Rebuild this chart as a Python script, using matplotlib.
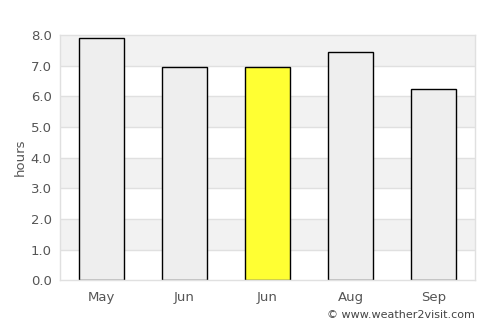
import matplotlib
matplotlib.use("Agg")
import matplotlib.pyplot as plt

# --- Data ---
months = ["May", "Jun", "Jun", "Aug", "Sep"]
hours = [7.9, 6.95, 6.95, 7.45, 6.25]
highlight = 2  # index of the current month
y_ticks = [0, 1, 2, 3, 4, 5, 6, 7, 8]

TEXT = "#555555"
GRID = "#e0e0e0"

fig = plt.figure(figsize=(5.0, 3.25), dpi=100)
ax = fig.add_axes([0.12, 0.138, 0.83, 0.754])

# alternating horizontal bands
for lo in y_ticks[:-1]:
    if lo % 2 == 1:
        ax.axhspan(lo, lo + 1, color="#f2f2f2", zorder=0, lw=0)
for t in y_ticks[1:-1]:
    ax.axhline(t, color=GRID, lw=1, zorder=1)

colors = ["#ffff33" if i == highlight else "#eeeeee" for i in range(len(months))]
ax.bar(range(len(months)), hours, width=0.55, color=colors,
       edgecolor="black", linewidth=1, zorder=2)

ax.set_xlim(-0.5, len(months) - 0.5)
ax.set_ylim(0, 8)
ax.set_xticks(range(len(months)))
ax.set_xticklabels(months)
ax.set_yticks(y_ticks)
ax.set_yticklabels([f"{v:.1f}" for v in y_ticks])
ax.tick_params(axis="both", length=0, colors=TEXT, labelsize=9.5)
ax.tick_params(axis="x", pad=8)
ax.tick_params(axis="y", pad=6)
ax.set_ylabel("hours", color=TEXT, fontsize=9.5, labelpad=3)

for s in ax.spines.values():
    s.set_color(GRID)
    s.set_linewidth(1)

fig.text(0.95, 0.015, "© www.weather2visit.com", ha="right", va="bottom",
         color="#444444", fontsize=8)

fig.savefig("out.png", dpi=100)
